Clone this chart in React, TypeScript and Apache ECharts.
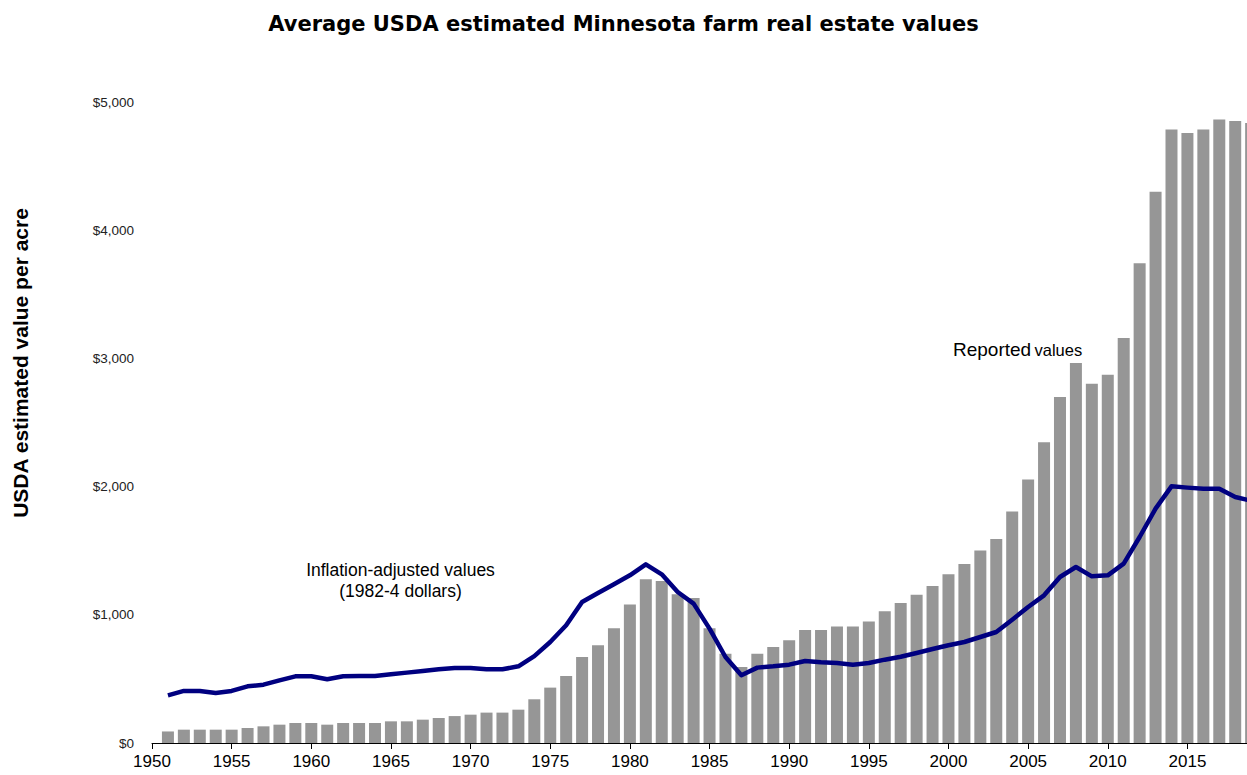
import React, { useEffect, useRef } from "react";
import * as echarts from "echarts";

const years: number[] = [];
for (let y = 1951; y <= 2019; y++) years.push(y);

const reportedValues = [
  90, 104, 104, 104, 104, 117, 130, 143, 156, 156,
  143, 156, 156, 156, 169, 169, 182, 195, 210, 221,
  237, 237, 260, 341, 432, 523, 671, 762, 895, 1080,
  1277, 1264, 1160, 1131, 895, 697, 593, 697, 749, 801,
  882, 882, 908, 908, 947, 1028, 1092, 1157, 1225, 1316,
  1397, 1501, 1592, 1805, 2055, 2346, 2699, 2964, 2803, 2872,
  3160, 3742, 4300, 4785, 4758, 4785, 4863, 4852, 4836,
];

const adjustedValues = [
  372, 406, 406, 390, 406, 442, 455, 489, 520, 520,
  497, 520, 523, 523, 536, 549, 562, 575, 585, 585,
  575, 575, 598, 678, 788, 918, 1100, 1170, 1238, 1308,
  1394, 1316, 1178, 1087, 892, 671, 528, 588, 598, 611,
  640, 629, 624, 611, 624, 650, 673, 702, 733, 762,
  788, 827, 866, 962, 1061, 1152, 1295, 1373, 1300, 1308,
  1399, 1607, 1828, 2002, 1992, 1984, 1984, 1919, 1890,
];

const yTicks = [0, 1000, 2000, 3000, 4000, 5000];

const titleText = "Average USDA estimated Minnesota farm real estate values";
const yAxisTitle = "USDA estimated value per acre";
const adjustedNote = "Inflation-adjusted values\n(1982-4 dollars)";

export default function App() {
  const ref = useRef<HTMLDivElement>(null);
  useEffect(() => {
    if (!ref.current) return;
    const chart = echarts.init(ref.current, null, { renderer: "svg" });
    const font = "Liberation Sans, Arial, sans-serif";
    chart.setOption({
      animation: false,
      backgroundColor: "#ffffff",
      textStyle: { fontFamily: font },
      title: {
        text: titleText,
        left: "center",
        top: 8,
        textStyle: { fontFamily: "DejaVu Sans, sans-serif", fontSize: 21, fontWeight: "bold", color: "#000" },
      },
      grid: { left: 152, right: 0, top: 102, bottom: 32, containLabel: false },
      xAxis: {
        type: "value",
        min: 1950,
        max: 2018.74,
        interval: 5,
        splitLine: { show: false },
        axisLine: { show: true, lineStyle: { color: "#000", width: 1 } },
        axisTick: { show: true, length: 6, lineStyle: { color: "#000" } },
        axisLabel: {
          color: "#000",
          fontSize: 17,
          margin: 10,
          showMaxLabel: false,
          formatter: (v: number) => (Math.abs(v % 5) < 1e-6 ? String(v) : ""),
        },
      },
      yAxis: {
        type: "value",
        min: yTicks[0],
        max: yTicks[yTicks.length - 1],
        interval: 1000,
        splitLine: { show: false },
        axisLine: { show: false },
        axisTick: { show: false },
        axisLabel: {
          color: "#222",
          fontSize: 13.5,
          margin: 18,
          formatter: (v: number) => "$" + v.toLocaleString("en-US"),
        },
      },
      series: [
        {
          name: "Reported values",
          type: "bar",
          data: years.map((y, i) => [y, reportedValues[i]]),
          barWidth: 12,
          itemStyle: { color: "#969696" },
          emphasis: { disabled: true },
        },
        {
          name: "Inflation-adjusted values",
          type: "line",
          data: years.map((y, i) => [y, adjustedValues[i]]),
          showSymbol: false,
          symbol: "none",
          lineStyle: { color: "#000080", width: 4.5, join: "round" },
          emphasis: { disabled: true },
        },
      ],
      graphic: [
        {
          type: "text",
          x: 20,
          y: 363,
          rotation: Math.PI / 2,
          style: {
            text: yAxisTitle,
            align: "center",
            verticalAlign: "middle",
            font: "bold 21px Liberation Sans, Arial, sans-serif",
            fill: "#000",
          },
        },
        {
          type: "text",
          x: 400.5,
          y: 580,
          style: {
            text: adjustedNote,
            align: "center",
            verticalAlign: "middle",
            font: "17.5px Liberation Sans, Arial, sans-serif",
            fill: "#000",
            lineHeight: 21,
          },
        },
        {
          type: "text",
          x: 953,
          y: 349,
          style: {
            text: "{a|Reported} {b|values}",
            align: "left",
            verticalAlign: "middle",
            fill: "#000",
            rich: {
              a: { fontSize: 19, fontFamily: font, lineHeight: 19, verticalAlign: "bottom" },
              b: { fontSize: 16.5, fontFamily: font, lineHeight: 16.5, verticalAlign: "bottom" },
            },
          },
        },
      ],
    });
    return () => chart.dispose();
  }, []);
  return (
    <div
      ref={ref}
      style={{ position: "fixed", left: 0, top: 0, width: 1247, height: 775 }}
    />
  );
}
